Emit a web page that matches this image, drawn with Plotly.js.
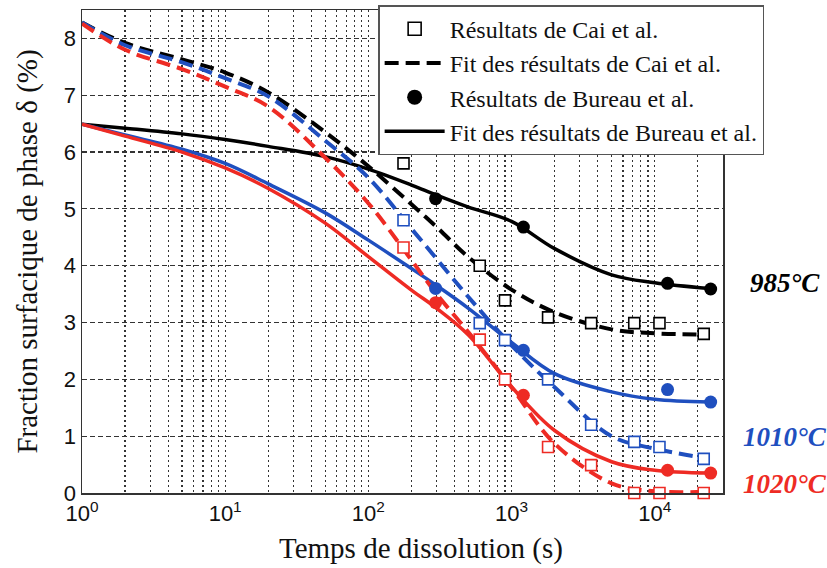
<!DOCTYPE html>
<html>
<head>
<meta charset="utf-8">
<script src="https://cdn.plot.ly/plotly-3.0.1.min.js"></script>
<style>html,body{margin:0;padding:0;background:#fff;}#chart{width:827px;height:568px;}</style>
</head>
<body>
<div id="chart"></div>
<script>
// ---- data ----
var fitTime = [1, 2, 5, 10, 20, 50, 100, 200, 300, 500, 1000, 2000, 5000, 10000, 22000];
var fitCai985   = [8.28, 7.92, 7.63, 7.40, 7.05, 6.35, 5.75, 5.08, 4.68, 4.15, 3.58, 3.18, 2.88, 2.81, 2.79];
var fitCai1010  = [8.28, 7.88, 7.58, 7.30, 6.98, 6.20, 5.55, 4.65, 4.12, 3.45, 2.60, 1.86, 1.00, 0.78, 0.62];
var fitCai1020  = [8.26, 7.80, 7.46, 7.15, 6.80, 5.90, 5.10, 4.10, 3.50, 2.83, 1.86, 0.87, 0.17, 0.03, 0.02];
var fitBurTime = [1, 2, 5, 10, 20, 50, 100, 200, 300, 500, 1000, 2000, 5000, 10000, 24000];
var fitBur985   = [6.49, 6.42, 6.32, 6.22, 6.10, 5.92, 5.70, 5.42, 5.24, 5.03, 4.78, 4.30, 3.84, 3.70, 3.60];
var fitBur1010  = [6.49, 6.30, 6.05, 5.80, 5.44, 4.93, 4.45, 3.95, 3.65, 3.25, 2.65, 2.10, 1.78, 1.65, 1.60];
var fitBur1020  = [6.49, 6.28, 6.00, 5.72, 5.36, 4.75, 4.16, 3.57, 3.25, 2.78, 1.87, 1.10, 0.55, 0.40, 0.35];

var caiTime = [176, 600, 900, 1800, 3600, 7200, 10800, 22000];
var cai985  = [5.80, 4.00, 3.39, 3.09, 2.99, 2.99, 2.99, 2.80];
var cai1010 = [4.80, 2.99, 2.69, 2.00, 1.20, 0.90, 0.81, 0.60];
var cai1020 = [4.32, 2.70, 2.00, 0.81, 0.49, 0.00, 0.00, 0.00];

var burTime = [295, 1210, 12300, 24600];
var bur985  = [5.18, 4.68, 3.69, 3.59];
var bur1010 = [3.60, 2.51, 1.82, 1.60];
var bur1020 = [3.35, 1.72, 0.40, 0.35];

var tickVals = [1, 10, 100, 1000, 10000];
var tickLabels = ['10<sup>0</sup>', '10<sup>1</sup>', '10<sup>2</sup>', '10<sup>3</sup>', '10<sup>4</sup>'];
var legendNames = ['Résultats de Cai et al.', 'Fit des résultats de Cai et al.', 'Résultats de Bureau et al.', 'Fit des résultats de Bureau et al.'];
var xTitle = 'Temps de dissolution (s)';
var yTitle = 'Fraction surfacique de phase δ (%)';
var tempLabels = ['985°C', '1010°C', '1020°C'];
var tempLabelY = [3.69, 0.98, 0.16];

// ---- styles ----
var BLACK = '#000000', BLUE = '#1f4fbf', RED = '#ee2b24';
var colors = [BLACK, BLUE, RED];
var DASH = '14px,7px';
var SERIF = 'Liberation Serif, Times New Roman, serif';
var SANS = 'Liberation Sans, Arial, sans-serif';

var traces = [];
var fitsCai = [fitCai985, fitCai1010, fitCai1020];
var fitsBur = [fitBur985, fitBur1010, fitBur1020];
var pCai = [cai985, cai1010, cai1020];
var pBur = [bur985, bur1010, bur1020];

for (var i = 0; i < 3; i++) {
  traces.push({x: fitTime, y: fitsCai[i], mode: 'lines', type: 'scatter', showlegend: false,
    line: {color: colors[i], width: 4, dash: DASH, shape: 'spline', smoothing: 1}, hoverinfo: 'skip'});
  traces.push({x: fitBurTime, y: fitsBur[i], mode: 'lines', type: 'scatter', showlegend: false,
    line: {color: colors[i], width: 3.5, shape: 'spline', smoothing: 1}, hoverinfo: 'skip'});
}
for (var j = 0; j < 3; j++) {
  traces.push({x: caiTime, y: pCai[j], mode: 'markers', type: 'scatter', showlegend: false, cliponaxis: false,
    marker: {symbol: 'square', size: 11, color: '#ffffff', line: {color: colors[j], width: 1.6}}});
  traces.push({x: burTime, y: pBur[j], mode: 'markers', type: 'scatter', showlegend: false, cliponaxis: false,
    marker: {symbol: 'circle', size: 13, color: colors[j], line: {width: 0}}});
}
// legend entries
traces.push({x: [null], y: [null], name: legendNames[0], mode: 'markers', type: 'scatter', legendgroup: 'a',
  marker: {symbol: 'square', size: 13, color: '#ffffff', line: {color: BLACK, width: 1.6}}});
traces.push({x: [null], y: [null], name: legendNames[1], mode: 'lines', type: 'scatter', legendgroup: 'b',
  line: {color: BLACK, width: 4, dash: DASH}});
traces.push({x: [null], y: [null], name: legendNames[2], mode: 'markers', type: 'scatter', legendgroup: 'c',
  marker: {symbol: 'circle', size: 15, color: BLACK}});
traces.push({x: [null], y: [null], name: legendNames[3], mode: 'lines', type: 'scatter', legendgroup: 'd',
  line: {color: BLACK, width: 3.5}});

var minorVals = [];
for (var d = 0; d < 5; d++) for (var k = 2; k <= 9; k++) minorVals.push(k * Math.pow(10, d));

var annotations = [];
for (var a = 0; a < 3; a++) {
  annotations.push({xref: 'paper', yref: 'y', x: 1.097, y: tempLabelY[a], text: '<b><i>' + tempLabels[a] + '</i></b>',
    showarrow: false, xanchor: 'center', yanchor: 'middle',
    font: {family: SERIF, size: 27, color: colors[a]}});
}
// x axis title (placed slightly right of centre as in the reference)
annotations.push({xref: 'paper', yref: 'paper', x: 0.529, y: -0.077, xanchor: 'center', yanchor: 'top',
  text: xTitle, showarrow: false, font: {family: SERIF, size: 29, color: '#111'}});

var layout = {
  width: 827, height: 568,
  margin: {l: 82, r: 104, t: 10, b: 75, autoexpand: false},
  paper_bgcolor: '#ffffff', plot_bgcolor: '#ffffff',
  showlegend: true,
  legend: {x: 0.462, y: 1.01, xanchor: 'left', yanchor: 'top', bgcolor: '#ffffff', bordercolor: '#555555', borderwidth: 1.5,
    font: {family: SERIF, size: 24, color: '#111'},
    traceorder: 'grouped', tracegroupgap: 0, itemwidth: 60},
  xaxis: {type: 'log', range: [0, Math.log10(30000)], tickvals: tickVals, ticktext: tickLabels,
    showgrid: true, gridcolor: '#333', griddash: '2px,3px', gridwidth: 1.3,
    minor: {tickvals: minorVals, showgrid: true, gridcolor: '#333', griddash: '2px,3px', gridwidth: 1.3, ticks: ''},
    showline: true, mirror: true, linecolor: '#333', linewidth: 1.5, ticks: '', zeroline: false,
    tickfont: {family: SANS, size: 22, color: '#111'}},
  yaxis: {range: [0, 8.5], dtick: 1, tick0: 0,
    showgrid: true, gridcolor: '#333', griddash: '5px,3px', gridwidth: 1.2,
    showline: true, mirror: true, linecolor: '#333', linewidth: 1.5, ticks: '', zeroline: false,
    tickfont: {family: SANS, size: 22, color: '#111'},
    title: {text: yTitle, standoff: 17, font: {family: SERIF, size: 29, color: '#111'}}},
  annotations: annotations
};

Plotly.newPlot('chart', traces, layout, {staticPlot: true, displayModeBar: false});
</script>
</body>
</html>
